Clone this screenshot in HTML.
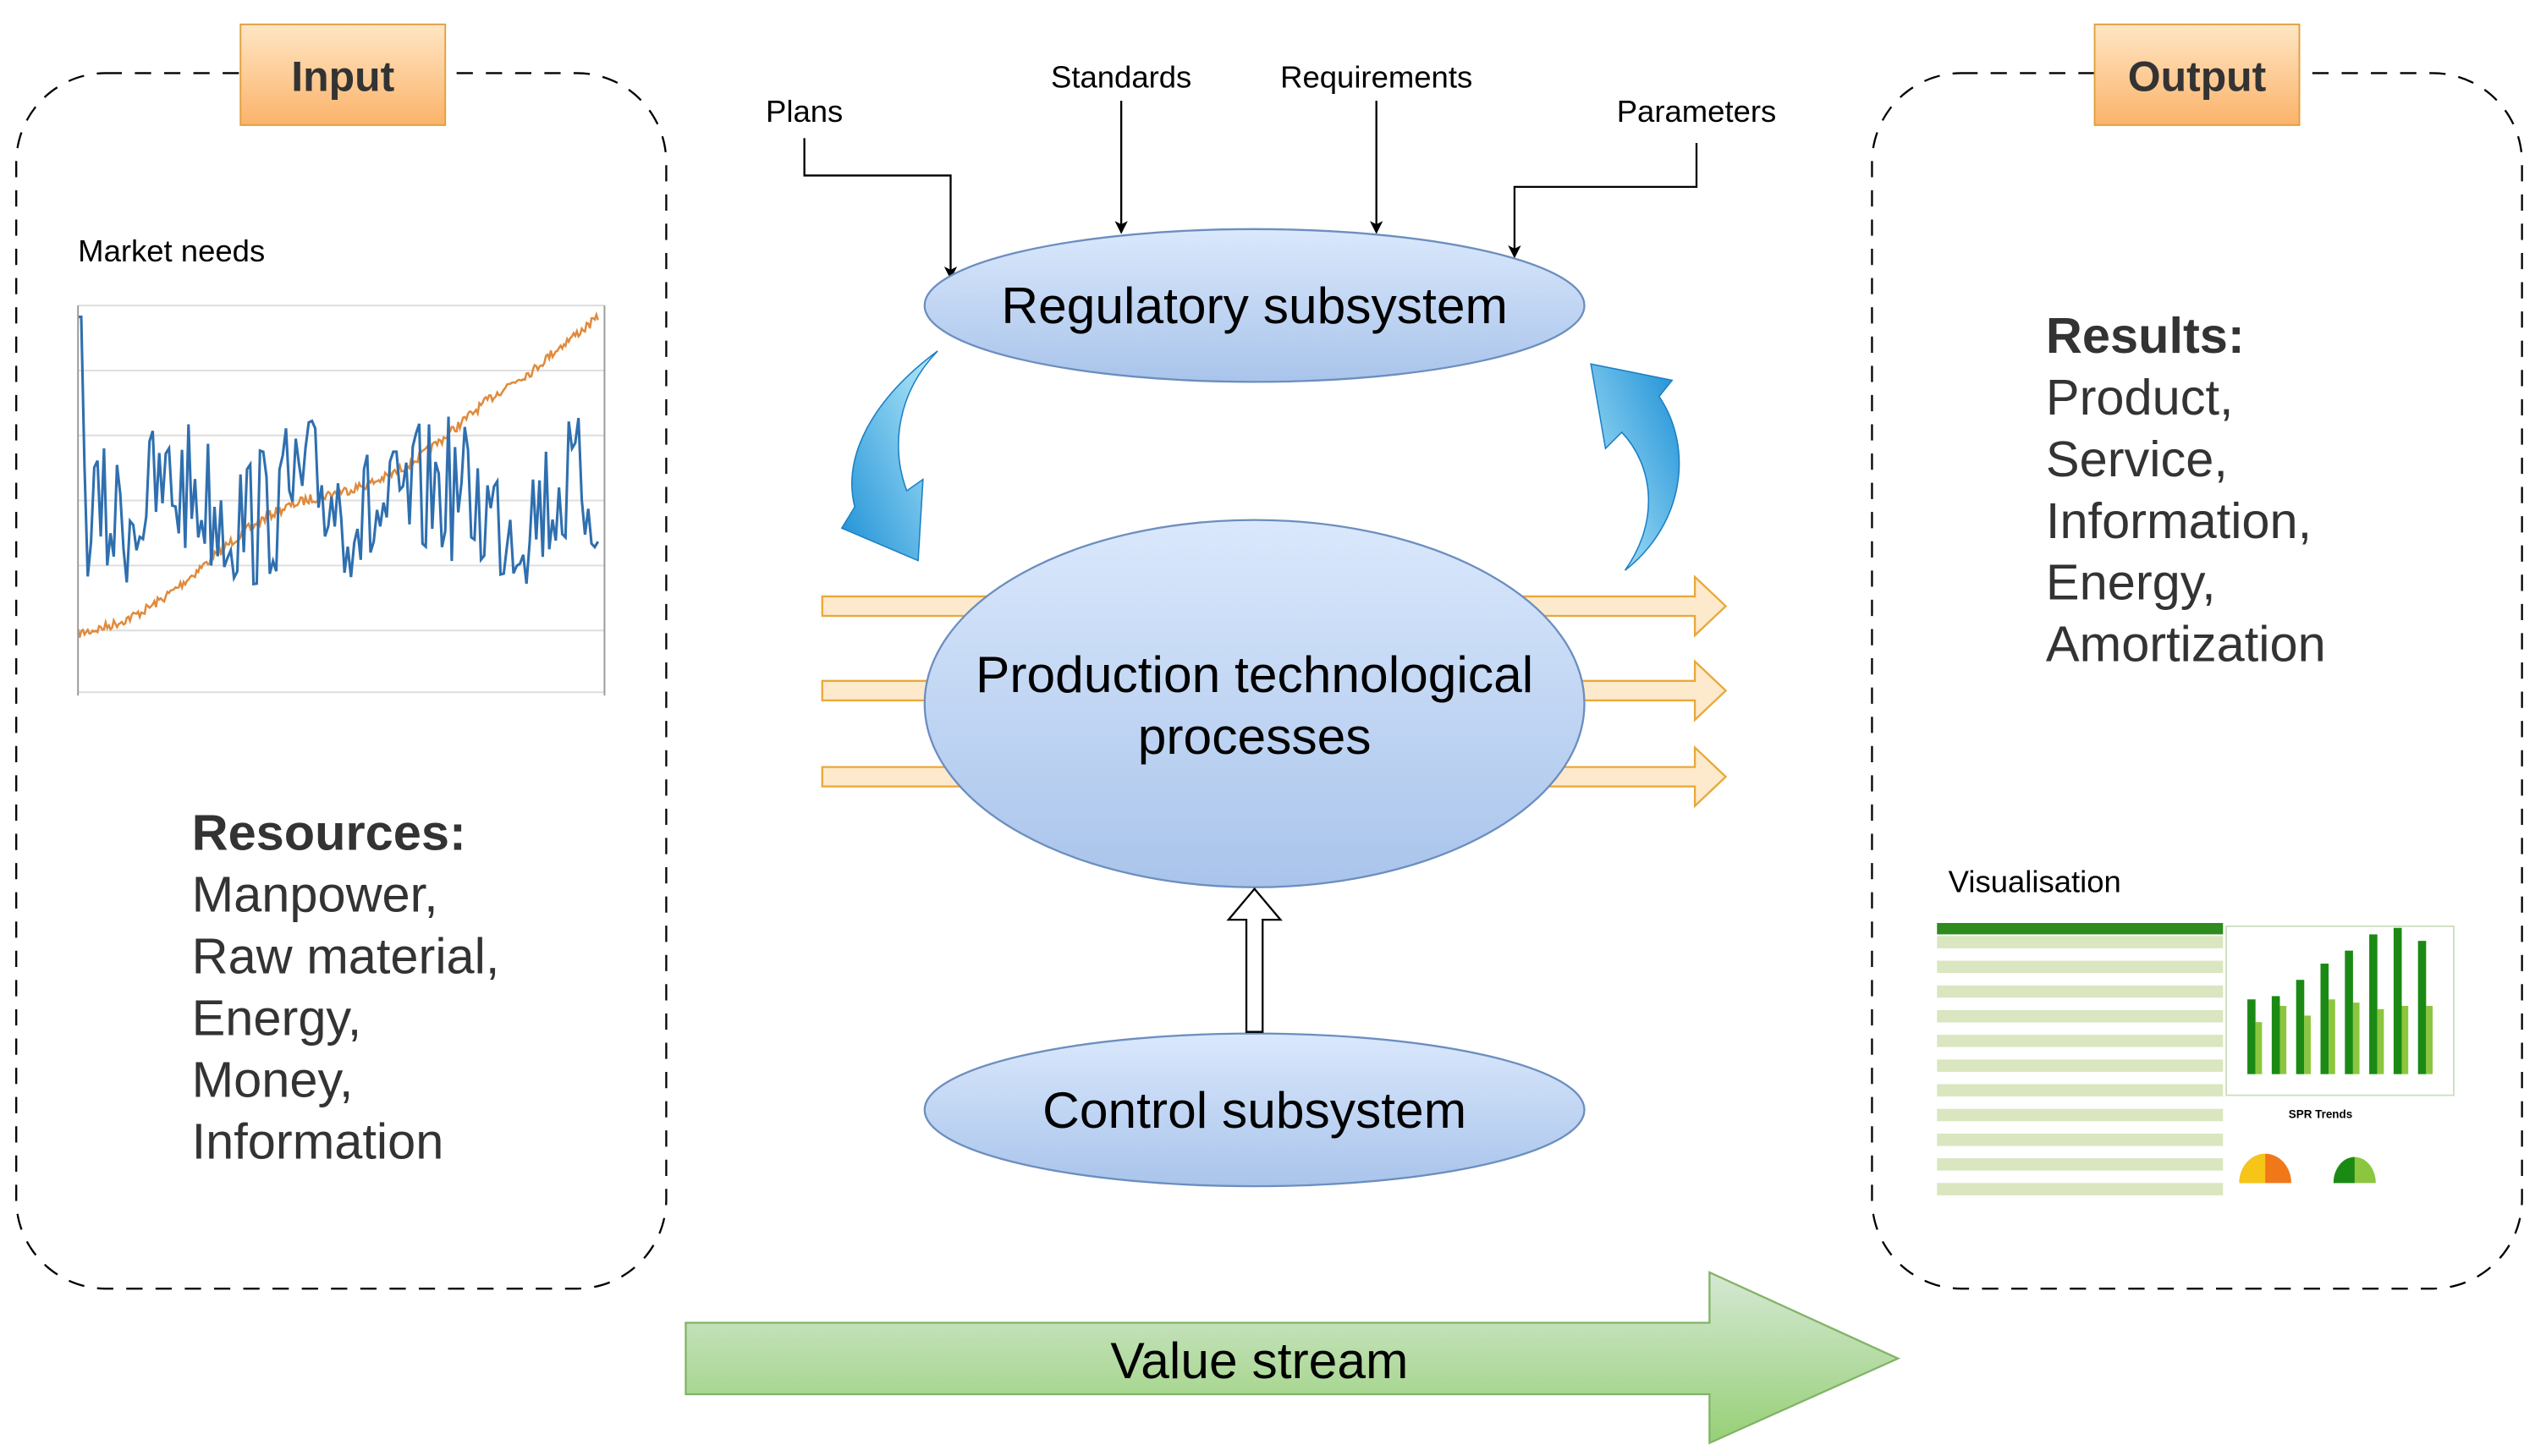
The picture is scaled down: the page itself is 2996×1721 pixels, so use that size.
<!DOCTYPE html>
<html><head><meta charset="utf-8"><style>
html,body{margin:0;padding:0;background:#fff;}
svg{display:block;}
text{font-family:"Liberation Sans",Arial,sans-serif;}
</style></head><body>
<svg id="s" width="2996" height="1721" viewBox="0 0 1560 896" preserveAspectRatio="none" xmlns="http://www.w3.org/2000/svg">
<defs>
<linearGradient id="bl" x1="0" y1="0" x2="0" y2="1"><stop offset="0" stop-color="#dae8fc"/><stop offset="1" stop-color="#a9c4eb"/></linearGradient>
<linearGradient id="or" x1="0" y1="0" x2="0" y2="1"><stop offset="0" stop-color="#ffe6c4"/><stop offset="1" stop-color="#fbb36a"/></linearGradient>
<linearGradient id="gr" x1="0" y1="0" x2="0" y2="1"><stop offset="0" stop-color="#d5e8d4"/><stop offset="1" stop-color="#97d077"/></linearGradient>
<linearGradient id="cy1" x1="1" y1="0" x2="0" y2="1"><stop offset="0" stop-color="#b9ecfb"/><stop offset="1" stop-color="#1c8fd6"/></linearGradient>
<linearGradient id="cy2" x1="0" y1="1" x2="1" y2="0"><stop offset="0" stop-color="#b9ecfb"/><stop offset="1" stop-color="#1c8fd6"/></linearGradient>
<marker id="ah" markerWidth="8" markerHeight="8" refX="7" refY="4" orient="auto" markerUnits="userSpaceOnUse"><path d="M0,0 L8,4 L0,8 L2,4 z" fill="#000"/></marker>
</defs>
<rect width="1560" height="896" fill="#fff"/>
<rect x="10" y="45" width="400" height="748" rx="55" fill="none" stroke="#000" stroke-width="1.2" stroke-dasharray="10,8"/>
<rect x="1152" y="45" width="400" height="748" rx="55" fill="none" stroke="#000" stroke-width="1.2" stroke-dasharray="10,8"/>
<rect x="148" y="15" width="126" height="62" fill="url(#or)" stroke="#e0a040"/>
<text x="211" y="56" font-size="26" font-weight="bold" text-anchor="middle" fill="#333">Input</text>
<rect x="1289" y="15" width="126" height="62" fill="url(#or)" stroke="#e0a040"/>
<text x="1352" y="56" font-size="26" font-weight="bold" text-anchor="middle" fill="#333">Output</text>

<text x="48" y="161" font-size="19">Market needs</text>
<g id="chart">
<rect x="38" y="180" width="342" height="252" fill="#fff"/>
<g stroke="#ddd" stroke-width="1">
<line x1="48" y1="188" x2="372" y2="188"/><line x1="48" y1="228" x2="372" y2="228"/><line x1="48" y1="268" x2="372" y2="268"/><line x1="48" y1="308" x2="372" y2="308"/><line x1="48" y1="348" x2="372" y2="348"/><line x1="48" y1="388" x2="372" y2="388"/><line x1="48" y1="426" x2="372" y2="426"/>
</g>
</g>
<text x="118" y="523" font-size="31" font-weight="bold" fill="#333">Resources:</text>
<g font-size="31" fill="#333"><text x="118" y="561">Manpower,</text><text x="118" y="599">Raw material,</text><text x="118" y="637">Energy,</text><text x="118" y="675">Money,</text><text x="118" y="713">Information</text></g>

<text x="1259" y="217" font-size="31" font-weight="bold" fill="#333">Results:</text>
<g font-size="31" fill="#333"><text x="1259" y="255">Product,</text><text x="1259" y="293">Service,</text><text x="1259" y="331">Information,</text><text x="1259" y="369">Energy,</text><text x="1259" y="407">Amortization</text></g>

<text x="1199" y="549" font-size="19">Visualisation</text>
<g id="viz">
<rect x="1192" y="568" width="320" height="160" fill="#fff"/>
<rect x="1192" y="568" width="176" height="7" fill="#2e8b1e"/>
</g>

<g font-size="19"><text x="495" y="75" text-anchor="middle">Plans</text><text x="690" y="54" text-anchor="middle">Standards</text><text x="847" y="54" text-anchor="middle">Requirements</text><text x="1044" y="75" text-anchor="middle">Parameters</text></g>
<g fill="none" stroke="#000" stroke-width="1.2">
<path d="M495,85 V108 H585 V171" marker-end="url(#ah)"/>
<path d="M690,62 V143" marker-end="url(#ah)"/>
<path d="M847,62 V143" marker-end="url(#ah)"/>
<path d="M1044,88 V115 H932 V158" marker-end="url(#ah)"/>
</g>

<g fill="#fde9cc" stroke="#e8a838" stroke-width="1.2">
<path d="M506,367 H1043 V355 L1062,373 L1043,391 V379 H506 Z"/>
<path d="M506,419 H1043 V407 L1062,425 L1043,443 V431 H506 Z"/>
<path d="M506,472 H1043 V460 L1062,478 L1043,496 V484 H506 Z"/>
</g>

<ellipse cx="772" cy="188" rx="203" ry="47" fill="url(#bl)" stroke="#6c8ebf" stroke-width="1.2"/>
<text x="772" y="199" font-size="31.5" text-anchor="middle">Regulatory subsystem</text>
<ellipse cx="772" cy="433" rx="203" ry="113" fill="url(#bl)" stroke="#6c8ebf" stroke-width="1.2"/>
<text x="772" y="426" font-size="31.5" text-anchor="middle">Production technological</text>
<text x="772" y="464" font-size="31.5" text-anchor="middle">processes</text>
<ellipse cx="772" cy="683" rx="203" ry="47" fill="url(#bl)" stroke="#6c8ebf" stroke-width="1.2"/>
<text x="772" y="694" font-size="31.5" text-anchor="middle">Control subsystem</text>

<path d="M767,635 V566 H756 L772,547 L788,566 H777 V635 Z" fill="#fff" stroke="#000" stroke-width="1.2"/>

<path d="M577,216 C538,245 518,280 526,312 L518,325 L565,345 L568,295 L558,302 C548,275 552,242 577,216 Z" fill="url(#cy1)" stroke="#1a7fc4" stroke-width="0.8"/>
<path d="M979,224 L1029,234 L1021,244 C1042,275 1037,322 1000,351 C1022,320 1017,286 998,266 L988,276 Z" fill="url(#cy2)" stroke="#1a7fc4" stroke-width="0.8"/>

<path d="M422,814 H1052 V783 L1168,836 L1052,888 V858 H422 Z" fill="url(#gr)" stroke="#82b366" stroke-width="1.2"/>
<text x="775" y="848" font-size="31.5" text-anchor="middle">Value stream</text>
</svg>
<script>
(function(){
var NS="http://www.w3.org/2000/svg";
function el(p,t,a){var e=document.createElementNS(NS,t);for(var k in a)e.setAttribute(k,a[k]);p.appendChild(e);return e;}
var seed=7;function r(){seed=(seed*16807)%2147483647;return seed/2147483647;}
var c=document.getElementById('chart');
var p1="",p2="";var x;
for(var i=0;i<=320;i++){x=48+i;
 var base=390-i*0.55+Math.sin(i/25)*8+(r()-0.5)*6; if(i>280)base-=(i-280)*0.5;
 p2+=(i?"L":"M")+x+","+base.toFixed(1);
}
for(var i=0;i<=320;i+=2){x=48+i;
 var v=310+(r()-0.5)*90+Math.sin(i/13)*10; if(i<3)v=195;
 v=Math.max(195,Math.min(405,v));
 p1+=(i?"L":"M")+x+","+v.toFixed(1);
}
el(c,'path',{d:p2,fill:'none',stroke:'#e08a3c','stroke-width':1.3});
el(c,'path',{d:p1,fill:'none',stroke:'#2f6faf','stroke-width':1.6});
el(c,'line',{x1:48,y1:188,x2:48,y2:428,stroke:'#999'});
el(c,'line',{x1:372,y1:188,x2:372,y2:428,stroke:'#999'});
var v=document.getElementById('viz');
for(var j=0;j<21;j++){el(v,'rect',{x:1192,y:576+j*7.6,width:176,height:7.6,fill:j%2?'#fff':'#d9e6bf'});}
el(v,'rect',{x:1370,y:570,width:140,height:104,fill:'#fff',stroke:'#cde0c0'});
var h=[46,48,58,68,76,86,90,82];var g=[32,42,36,46,44,40,42,42];
for(var j=0;j<8;j++){var bx=1383+j*15;el(v,'rect',{x:bx,y:661-h[j],width:5,height:h[j],fill:'#1b8a14'});el(v,'rect',{x:bx+5,y:661-g[j],width:4,height:g[j],fill:'#8cc63f'});}
el(v,'text',{x:1428,y:688,'font-size':7,'font-weight':'bold','text-anchor':'middle'}).textContent='SPR Trends';
el(v,'path',{d:'M1378,728 A16,18 0 0 1 1410,728 Z',fill:'#f07818'});
el(v,'path',{d:'M1378,728 A16,18 0 0 1 1394,710 L1394,728 Z',fill:'#f5c518'});
el(v,'path',{d:'M1436,728 A13,16 0 0 1 1462,728 Z',fill:'#8cc63f'});
el(v,'path',{d:'M1436,728 A13,16 0 0 1 1449,712 L1449,728 Z',fill:'#1b8a14'});
})();
</script>
</body></html>
